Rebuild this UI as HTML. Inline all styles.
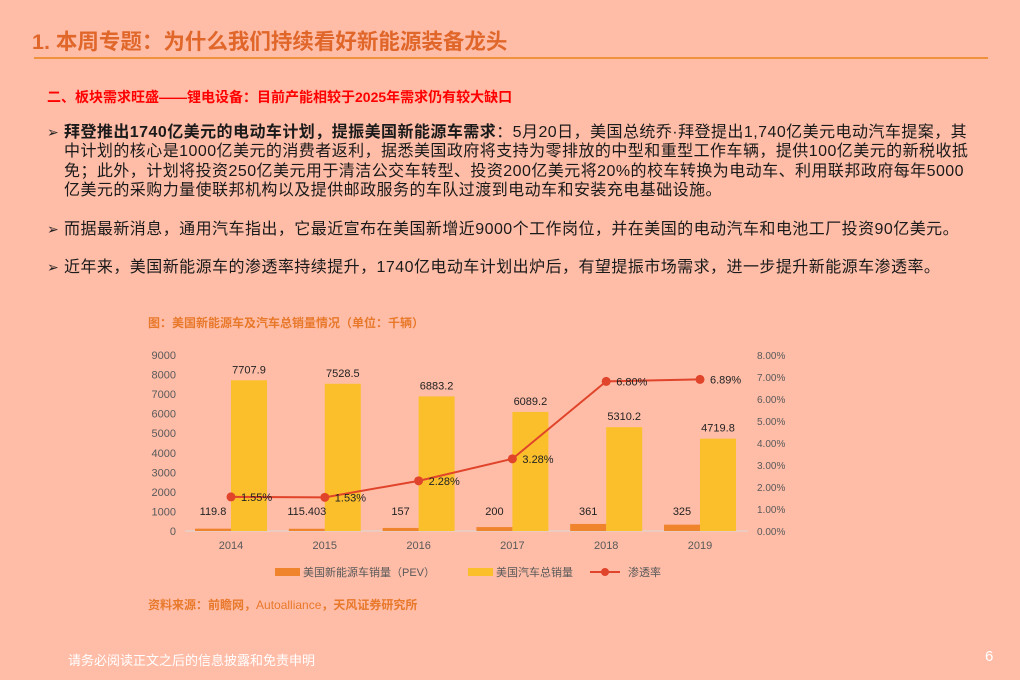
<!DOCTYPE html>
<html><head><meta charset="utf-8"><style>
body{margin:0;width:1020px;height:680px;background:#FFBDA8;position:relative;overflow:hidden;font-family:"Liberation Sans","Noto Sans CJK SC",sans-serif;}
.a{position:absolute;white-space:nowrap;}
.p{position:absolute;left:64px;width:912px;font-size:16px;letter-spacing:0.45px;line-height:19.4px;color:#1a1a1a;}
.arr{position:absolute;left:47px;font-size:14px;color:#222;}
</style></head><body>
<div class="a" style="left:32px;top:25px;font-size:21.5px;font-weight:bold;color:#E0662A;">1. 本周专题：为什么我们持续看好新能源装备龙头</div>
<div class="a" style="left:34px;top:57px;width:954px;height:2px;background:#F0913D;"></div>
<div class="a" style="left:47px;top:87px;font-size:14px;font-weight:bold;color:#FF0000;">二、板块需求旺盛——锂电设备：目前产能相较于2025年需求仍有较大缺口</div>
<div class="arr" style="top:124px">➢</div>
<div class="p" style="top:123px"><b>拜登推出1740亿美元的电动车计划，提振美国新能源车需求</b>：5月20日，美国总统乔·拜登提出1,740亿美元电动汽车提案，其中计划的核心是1000亿美元的消费者返利，据悉美国政府将支持为零排放的中型和重型工作车辆，提供100亿美元的新税收抵免；此外，计划将投资250亿美元用于清洁公交车转型、投资200亿美元将20%的校车转换为电动车、利用联邦政府每年5000亿美元的采购力量使联邦机构以及提供邮政服务的车队过渡到电动车和安装充电基础设施。</div>
<div class="arr" style="top:221px">➢</div>
<div class="p" style="top:220px">而据最新消息，通用汽车指出，它最近宣布在美国新增近9000个工作岗位，并在美国的电动汽车和电池工厂投资90亿美元。</div>
<div class="arr" style="top:259px">➢</div>
<div class="p" style="top:258px">近年来，美国新能源车的渗透率持续提升，1740亿电动车计划出炉后，有望提振市场需求，进一步提升新能源车渗透率。</div>
<div class="a" style="left:148px;top:314px;font-size:12px;font-weight:bold;color:#E8782A;">图：美国新能源车及汽车总销量情况（单位：千辆）</div>
<div class="a" style="left:148px;top:596px;font-size:12px;font-weight:bold;color:#E8782A;">资料来源：前瞻网，<span style="font-weight:normal">Autoalliance</span>，天风证券研究所</div>
<svg class="a" style="left:0;top:0" width="1020" height="680" id="chart"></svg>
<div class="a" style="left:68px;top:650px;font-size:13px;color:#fff;">请务必阅读正文之后的信息披露和免责申明</div>
<div class="a" style="left:985px;top:648px;font-size:15px;color:#fff;">6</div>
<script>
const categories=["2014","2015","2016","2017","2018","2019"];
const pevSales=[119.8,115.403,157,200,361,325];
const pevLabels=["119.8","115.403","157","200","361","325"];
const totalSales=[7707.9,7528.5,6883.2,6089.2,5310.2,4719.8];
const penetration=[1.55,1.53,2.28,3.28,6.80,6.89];
const leftTicks=[0,1000,2000,3000,4000,5000,6000,7000,8000,9000];
const rightTicks=[0,1,2,3,4,5,6,7,8];
const svg=document.getElementById('chart');const NS='http://www.w3.org/2000/svg';
function mk(t,a,txt){const e=document.createElementNS(NS,t);for(const k in a)e.setAttribute(k,a[k]);if(txt!==undefined)e.textContent=txt;svg.appendChild(e);return e;}
const y0=531,y1=355;
const yL=v=>y0-(v/9000)*(y0-y1);
const yR=v=>y0-(v/8)*(y0-y1);
const xC=i=>231+i*93.8;
const F='Liberation Sans, sans-serif';
leftTicks.forEach(v=>{const t=mk('text',{x:176,y:yL(v)+4,'text-anchor':'end','font-size':11,fill:'#595959','font-family':F},String(v));});
rightTicks.forEach(v=>{const t=mk('text',{x:757,y:yR(v)+4,'font-size':10,fill:'#595959','font-family':F},v.toFixed(2)+'%');});
const ax=mk('line',{x1:185,x2:748,y1:y0,y2:y0,stroke:'#d9d9d9','stroke-width':1});
categories.forEach((c,i)=>{
 const cx=xC(i);
 const b1=mk('rect',{x:cx-36,y:yL(pevSales[i]),width:36,height:y0-yL(pevSales[i]),fill:'#F0842C'});
 
 const b2=mk('rect',{x:cx,y:yL(totalSales[i]),width:36,height:y0-yL(totalSales[i]),fill:'#FBBF2C'});
 
 const l1=mk('text',{x:cx-18,y:Math.min(yL(pevSales[i]),y0-10)-6,'text-anchor':'middle','font-size':11,fill:'#222','font-family':F},pevLabels[i]);
 
 const l2=mk('text',{x:cx+18,y:yL(totalSales[i])-7,'text-anchor':'middle','font-size':11,fill:'#222','font-family':F},totalSales[i].toFixed(1));
 
 const xl=mk('text',{x:cx,y:549,'text-anchor':'middle','font-size':11,fill:'#595959','font-family':F},c);
 
});
const pl=mk('polyline',{points:penetration.map((v,i)=>xC(i)+','+yR(v)).join(' '),fill:'none',stroke:'#E0442A','stroke-width':2});

penetration.forEach((v,i)=>{
 const c=mk('circle',{cx:xC(i),cy:yR(v),r:4.5,fill:'#E0442A'});
 const t=mk('text',{x:xC(i)+10,y:yR(v)+4,'font-size':11,fill:'#222','font-family':F},v.toFixed(2)+'%');
});
const lf='Liberation Sans, Noto Sans CJK SC, sans-serif';
let e;
e=mk('rect',{x:275,y:568,width:25,height:8,fill:'#F0842C'});
e=mk('text',{x:303,y:576,'font-size':11,fill:'#595959','font-family':lf},'美国新能源车销量（PEV）');
e=mk('rect',{x:468,y:568,width:25,height:8,fill:'#FBBF2C'});
e=mk('text',{x:496,y:576,'font-size':11,fill:'#595959','font-family':lf},'美国汽车总销量');
e=mk('line',{x1:590,x2:620,y1:572,y2:572,stroke:'#E0442A','stroke-width':2});
e=mk('circle',{cx:605,cy:572,r:4,fill:'#E0442A'});
e=mk('text',{x:628,y:576,'font-size':11,fill:'#595959','font-family':lf},'渗透率');
</script>
</body></html>
